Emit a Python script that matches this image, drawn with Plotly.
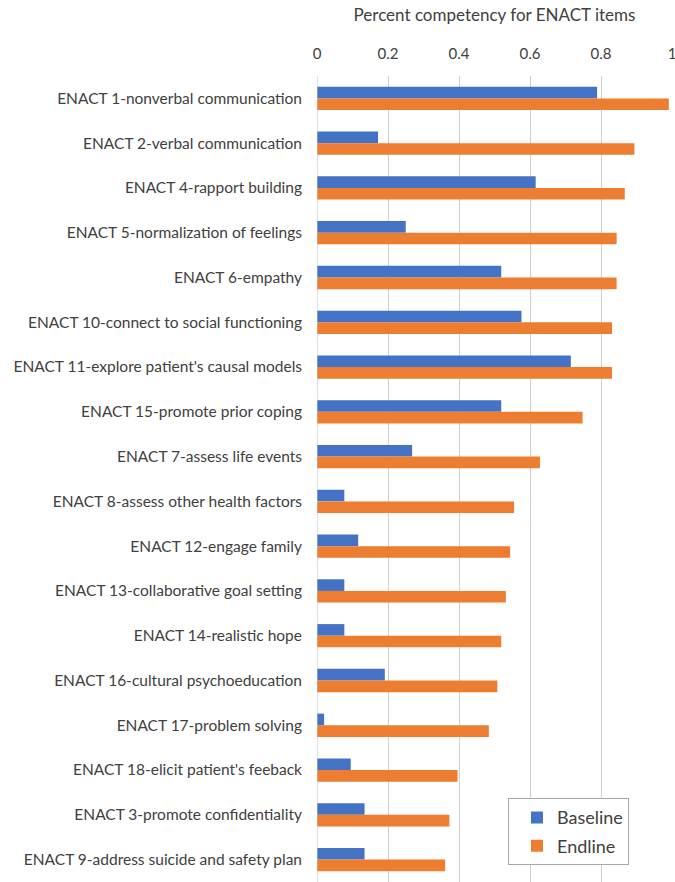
import plotly.graph_objects as go

categories = [
    "ENACT 1-nonverbal communication",
    "ENACT 2-verbal communication",
    "ENACT 4-rapport building",
    "ENACT 5-normalization of feelings",
    "ENACT 6-empathy",
    "ENACT 10-connect to social functioning",
    "ENACT 11-explore patient's causal models",
    "ENACT 15-promote prior coping",
    "ENACT 7-assess life events",
    "ENACT 8-assess other health factors",
    "ENACT 12-engage family",
    "ENACT 13-collaborative goal setting",
    "ENACT 14-realistic hope",
    "ENACT 16-cultural psychoeducation",
    "ENACT 17-problem solving",
    "ENACT 18-elicit patient's feeback",
    "ENACT 3-promote confidentiality",
    "ENACT 9-address suicide and safety plan",
]
baseline = [0.789, 0.172, 0.616, 0.250, 0.519, 0.576, 0.715, 0.519, 0.268, 0.077,
            0.116, 0.077, 0.077, 0.191, 0.020, 0.095, 0.134, 0.134]
endline = [0.991, 0.894, 0.867, 0.844, 0.844, 0.831, 0.831, 0.748, 0.628, 0.555,
           0.544, 0.532, 0.519, 0.508, 0.484, 0.396, 0.373, 0.361]

FONT = "Lato, 'Open Sans', sans-serif"
TXT = "#404040"

fig = go.Figure()
fig.add_trace(go.Bar(y=categories, x=baseline, name="Baseline", orientation="h",
                     marker=dict(color="#4472C4", line=dict(width=0)),
                     legendgroup="a"))
fig.add_trace(go.Bar(y=categories, x=endline, name="Endline", orientation="h",
                     marker=dict(color="#ED7D31", line=dict(width=0)),
                     legendgroup="b"))

fig.update_layout(
    width=675, height=882,
    margin=dict(l=317, r=3, t=76, b=0),
    paper_bgcolor="white", plot_bgcolor="white",
    font=dict(family=FONT, size=15, color=TXT),
    barmode="group", bargap=0.48, bargroupgap=0,
    showlegend=True,
    legend=dict(x=0.538, y=0.104, xanchor="left", yanchor="top",
                bordercolor="#a6a6a6", borderwidth=1, bgcolor="white",
                font=dict(size=18, color=TXT),
                traceorder="grouped", tracegroupgap=2,
                indentation=8,
                entrywidth=96, entrywidthmode="pixels"),
    xaxis=dict(side="top", range=[0, 1], dtick=0.2, tick0=0,
               showgrid=True, gridcolor="#cfcfcf", gridwidth=1,
               zeroline=False, showline=False, ticks="",
               ticklabeloverflow="allow", ticklabelstandoff=13,
               tickfont=dict(size=15, color=TXT),
               title=dict(text="Percent competency for ENACT items",
                          font=dict(size=17, color=TXT), standoff=18)),
    yaxis=dict(autorange="reversed", showgrid=False, zeroline=False,
               showline=False, ticks="", ticklabelstandoff=14,
               tickfont=dict(size=15.5, color=TXT)),
)
fig.add_shape(type="line", xref="x", yref="paper", x0=0, x1=0, y0=0, y1=1,
              line=dict(color="#bfbfbf", width=1))

fig.write_html("out.html")
